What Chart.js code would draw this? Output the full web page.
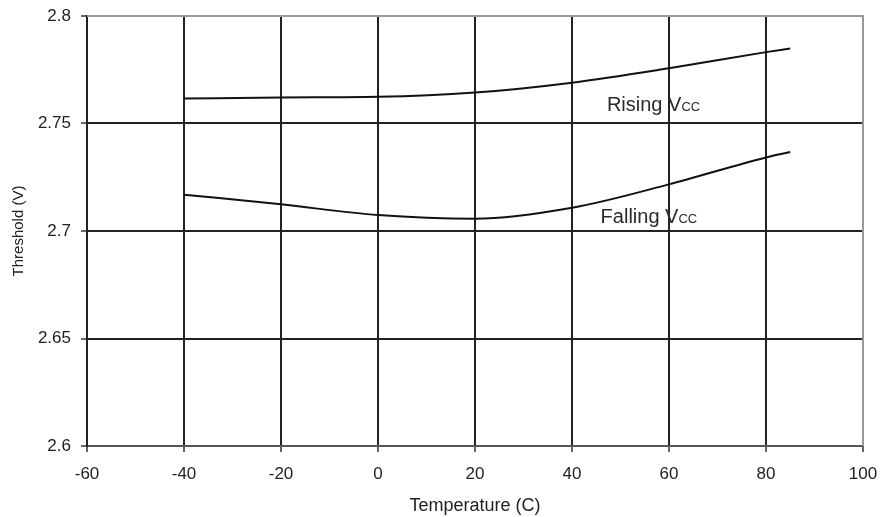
<!DOCTYPE html>
<html>
<head>
<meta charset="utf-8">
<script src="https://cdn.jsdelivr.net/npm/chart.js@4/dist/chart.umd.min.js"></script>
<style>
  html, body { margin: 0; padding: 0; background: #fff; }
  #wrap { width: 880px; height: 517px; }
</style>
</head>
<body>
<div id="wrap"><canvas id="thresholdChart" width="880" height="517"></canvas></div>
<script>
// temperatures (C) where the curves were read
const temps = [-40, -20, 0, 20, 40, 60, 80, 85];
// threshold voltages (V)
const risingVcc = [2.7616, 2.7621, 2.7624, 2.7644, 2.7690, 2.7757, 2.7832, 2.7849];
const fallingVcc = [2.7169, 2.7124, 2.7074, 2.7057, 2.7108, 2.7217, 2.7342, 2.7367];

// in-plot curve labels (data coordinates of the text baseline start)
const curveLabels = [
    { text: 'Rising V', sub: 'CC', x: 47.2, y: 2.7557 },
    { text: 'Falling V', sub: 'CC', x: 45.9, y: 2.7039 }
];

const FONT = "'Liberation Sans', Arial, sans-serif";
const INK = '#222';

const toPoints = (xs, ys) => xs.map((x, i) => ({ x: x, y: ys[i] }));

// draws the "Rising Vcc" / "Falling Vcc" text next to the curves
const curveLabelPlugin = {
    id: 'curveLabels',
    afterDatasetsDraw(chart) {
        const ctx = chart.ctx;
        const xs = chart.scales.x, ys = chart.scales.y;
        ctx.save();
        ctx.fillStyle = '#2a2a2a';
        ctx.textBaseline = 'alphabetic';
        ctx.textAlign = 'left';
        curveLabels.forEach(l => {
            const px = xs.getPixelForValue(l.x);
            const py = ys.getPixelForValue(l.y);
            ctx.font = '20px ' + FONT;
            ctx.fillText(l.text, px, py);
            const w = ctx.measureText(l.text).width;
            ctx.font = '13px ' + FONT;
            ctx.fillText(l.sub, px + w, py);
        });
        ctx.restore();
    }
};

// grey frame on the top and right edges of the plot
const framePlugin = {
    id: 'frame',
    beforeDatasetsDraw(chart) {
        const a = chart.chartArea;
        const ctx = chart.ctx;
        ctx.save();
        ctx.strokeStyle = '#999';
        ctx.lineWidth = 2;
        ctx.beginPath();
        ctx.moveTo(a.left, a.top);
        ctx.lineTo(a.right, a.top);
        ctx.lineTo(a.right, a.bottom);
        ctx.stroke();
        ctx.restore();
    }
};

new Chart(document.getElementById('thresholdChart').getContext('2d'), {
    type: 'line',
    data: {
        datasets: [
            {
                label: 'Rising VCC',
                data: toPoints(temps, risingVcc),
                borderColor: '#111',
                borderWidth: 2,
                pointRadius: 0,
                cubicInterpolationMode: 'monotone',
                fill: false
            },
            {
                label: 'Falling VCC',
                data: toPoints(temps, fallingVcc),
                borderColor: '#111',
                borderWidth: 2,
                pointRadius: 0,
                cubicInterpolationMode: 'monotone',
                fill: false
            }
        ]
    },
    options: {
        responsive: false,
        devicePixelRatio: 1,
        animation: false,
        layout: { padding: { top: 16, right: 17, left: 0, bottom: 0 } },
        plugins: {
            legend: { display: false },
            tooltip: { enabled: false }
        },
        scales: {
            x: {
                type: 'linear',
                min: -60,
                max: 100,
                afterFit: s => { s.height = 71; s.paddingLeft = 0; s.paddingRight = 0; },
                ticks: {
                    stepSize: 20,
                    color: INK,
                    font: { family: FONT, size: 17 },
                    padding: 12,
                    maxRotation: 0
                },
                grid: {
                    color: ctx => ctx.tick && ctx.tick.value === 100 ? '#999' : INK,
                    lineWidth: 2,
                    tickLength: 6,
                    tickColor: '#666'
                },
                border: { color: '#555', width: 2 },
                title: {
                    display: true,
                    text: 'Temperature (C)',
                    color: INK,
                    font: { family: FONT, size: 18 },
                    padding: { top: 0, bottom: 0 }
                }
            },
            y: {
                min: 2.6,
                max: 2.8,
                afterFit: s => { s.width = 87; s.paddingTop = 0; s.paddingBottom = 0; },
                ticks: {
                    stepSize: 0.05,
                    color: INK,
                    font: { family: FONT, size: 17 },
                    padding: 10,
                    callback: v => String(Number(v.toFixed(2)))
                },
                grid: {
                    color: ctx => ctx.tick && Math.abs(ctx.tick.value - 2.8) < 1e-6 ? '#999' : INK,
                    lineWidth: 2,
                    tickLength: 6,
                    tickColor: '#666'
                },
                border: { color: INK, width: 2 },
                title: {
                    display: true,
                    text: 'Threshold (V)',
                    color: INK,
                    font: { family: FONT, size: 15 },
                    padding: { top: 10, bottom: 0 }
                }
            }
        }
    },
    plugins: [framePlugin, curveLabelPlugin]
});
</script>
</body>
</html>
